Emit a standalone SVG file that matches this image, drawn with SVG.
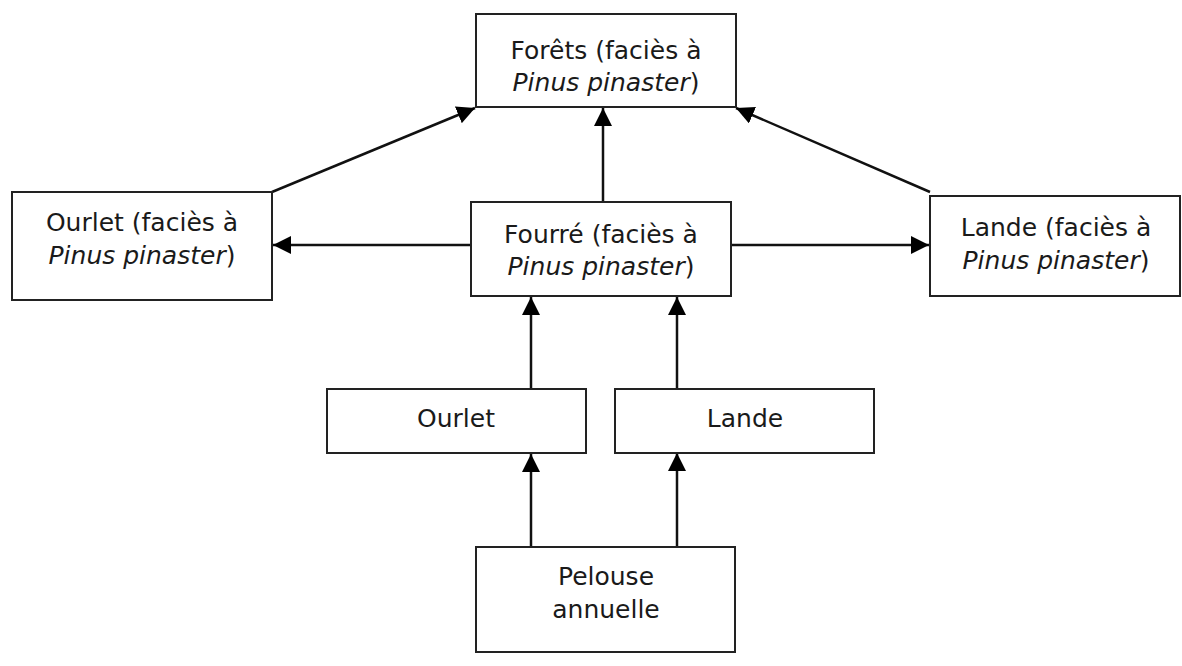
<svg xmlns="http://www.w3.org/2000/svg" width="1182" height="666" viewBox="0 0 1182 666">
<style>
.box{fill:#fff;stroke:#222;stroke-width:2}
.t{font-family:"DejaVu Sans","Liberation Sans",sans-serif;font-size:25px;fill:#1a1a1a;text-anchor:middle}
.i{font-style:italic}
.c{stroke:#111;stroke-width:2.5;fill:none;marker-end:url(#ah)}
</style>
<defs>
<marker id="ah" markerUnits="userSpaceOnUse" markerWidth="19" markerHeight="18" refX="18" refY="9" orient="auto">
<path d="M0,0 L18,9 L0,18 Z" fill="#000"/>
</marker>
</defs>
<rect width="1182" height="666" fill="#fff"/>
<g id="connectors">
<line class="c" x1="603" y1="202" x2="603" y2="108"/>
<line class="c" x1="272" y1="192" x2="475" y2="108"/>
<line class="c" x1="930" y1="192" x2="736" y2="108"/>
<line class="c" x1="471" y1="245" x2="273" y2="245"/>
<line class="c" x1="731" y1="245" x2="929" y2="245"/>
<line class="c" x1="531" y1="389" x2="531" y2="297"/>
<line class="c" x1="677" y1="389" x2="677" y2="297"/>
<line class="c" x1="531" y1="547" x2="531" y2="454"/>
<line class="c" x1="677" y1="547" x2="677" y2="453"/>
</g>
<g id="forets">
<rect class="box" x="476" y="14" width="260" height="93"/>
<text class="t" x="606" y="59">Forêts (faciès à</text>
<text class="t" x="606" y="91"><tspan class="i">Pinus pinaster</tspan>)</text>
</g>
<g id="ourlet-facies">
<rect class="box" x="12" y="192" width="260" height="108"/>
<text class="t" x="142" y="231">Ourlet (faciès à</text>
<text class="t" x="142" y="264"><tspan class="i">Pinus pinaster</tspan>)</text>
</g>
<g id="fourre">
<rect class="box" x="471" y="202" width="260" height="94"/>
<text class="t" x="601" y="243">Fourré (faciès à</text>
<text class="t" x="601" y="275"><tspan class="i">Pinus pinaster</tspan>)</text>
</g>
<g id="lande-facies">
<rect class="box" x="930" y="196" width="250" height="100"/>
<text class="t" x="1056" y="236">Lande (faciès à</text>
<text class="t" x="1056" y="269"><tspan class="i">Pinus pinaster</tspan>)</text>
</g>
<g id="ourlet">
<rect class="box" x="327" y="389" width="259" height="64"/>
<text class="t" x="456" y="427">Ourlet</text>
</g>
<g id="lande">
<rect class="box" x="615" y="389" width="259" height="64"/>
<text class="t" x="745" y="427">Lande</text>
</g>
<g id="pelouse">
<rect class="box" x="476" y="547" width="259" height="105"/>
<text class="t" x="606" y="585">Pelouse</text>
<text class="t" x="606" y="618">annuelle</text>
</g>
</svg>
